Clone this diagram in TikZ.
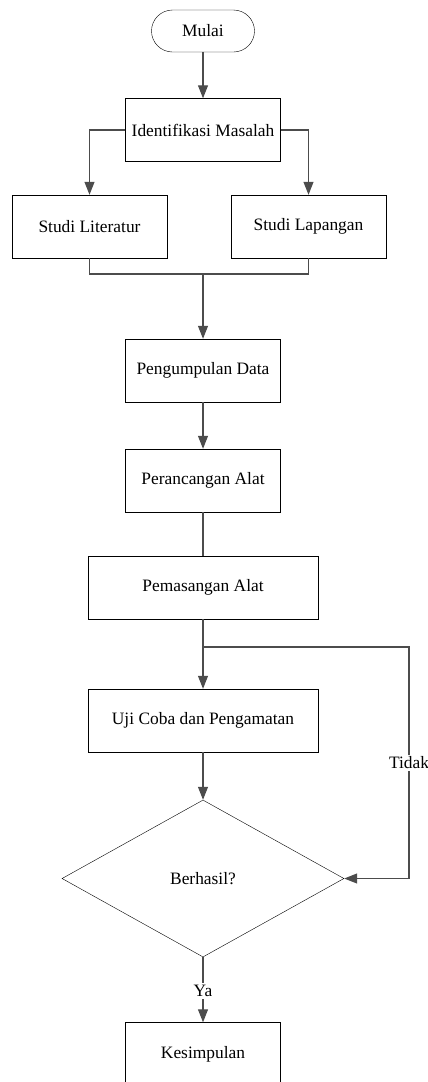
\documentclass[tikz,border=0pt]{standalone}
\usepackage{fontspec}
\setmainfont{Liberation Serif}
\usetikzlibrary{shapes.geometric, positioning, arrows.meta}

\begin{document}
\begin{tikzpicture}[
    >={Triangle[length=13pt, width=10pt]}, auto,
    font=\rmfamily\fontsize{17.4}{20}\selectfont,
    process/.style={draw, thin, rectangle, minimum width=155pt, minimum height=63pt},
    wideprocess/.style={process, minimum width=230pt},
    terminal/.style={draw, thin, rectangle, rounded corners=21pt, minimum width=103pt, minimum height=42pt},
    decision/.style={draw, thin, diamond, minimum width=282pt, minimum height=157pt, inner sep=0pt},
    line/.style={draw=black!70, line width=1.2pt},
    tag/.style={fill=white, inner sep=2pt}
]
    \useasboundingbox (0pt,0pt) rectangle (428pt,-1082pt);

    % Start
    \node[terminal] (MULAI) at (203pt,-31pt) {Mulai};

    % Identification and studies
    \node[process, below of=MULAI, node distance=99pt] (IDENT) {Identifikasi Masalah};
    \node[process, below of=IDENT, node distance=96.5pt, xshift=-113.5pt] (LIT) {Studi Literatur};
    \node[process, below of=IDENT, node distance=96.5pt, xshift=105.5pt] (LAP) {Studi Lapangan};
    \coordinate[below of=IDENT, node distance=144pt] (JOIN);

    % Main column
    \node[process, below of=IDENT, node distance=240.5pt] (KUMPUL) {Pengumpulan Data};
    \node[process, below of=KUMPUL, node distance=110pt] (RANCANG) {Perancangan Alat};
    \node[wideprocess, below of=RANCANG, node distance=107pt] (PASANG) {Pemasangan Alat};
    \coordinate[below of=PASANG, node distance=59.5pt] (SPLIT);
    \coordinate[right of=SPLIT, node distance=206pt] (LOOP);
    \node[wideprocess, below of=PASANG, node distance=133pt] (UJI) {Uji Coba dan Pengamatan};

    % Decision and end
    \node[decision, below of=UJI, node distance=158pt] (CEK) {Berhasil?};
    \node[process, below of=CEK, node distance=175.5pt] (HASIL) {Kesimpulan};

    % Edges
    \draw[line, ->] (MULAI) -- (IDENT);
    \draw[line, ->] (IDENT.west) -| (LIT);
    \draw[line, ->] (IDENT.east) -| (LAP);
    \draw[line] (LIT) |- (JOIN) -| (LAP);
    \draw[line, ->] (JOIN) -- (KUMPUL);
    \draw[line, ->] (KUMPUL) -- (RANCANG);
    \draw[line] (RANCANG) -- (PASANG);
    \draw[line, ->] (PASANG) -- (UJI);
    \draw[line, ->] (UJI) -- (CEK);

    % Retry loop
    \draw[line, ->] (SPLIT) -- (LOOP) |- node[tag, pos=0.25, anchor=center] {Tidak} (CEK.east);

    % Success
    \draw[line, ->] (CEK) -- node[tag, pos=0.52, anchor=center] {Ya} (HASIL);

\end{tikzpicture}
\end{document}
